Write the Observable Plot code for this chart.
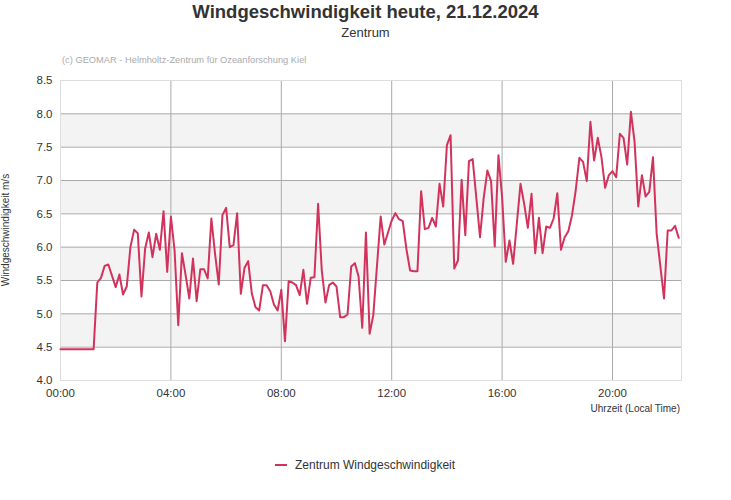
<!DOCTYPE html>
<html><head><meta charset="utf-8">
<script src="https://cdn.jsdelivr.net/npm/d3@7"></script>
<script src="https://cdn.jsdelivr.net/npm/@observablehq/plot@0.6"></script>
<style>
body{margin:0;background:#fff;font-family:"Liberation Sans",Arial,sans-serif;}
#wrap{position:relative;width:731px;height:500px;overflow:hidden;}
#title{position:absolute;left:0;width:731px;top:1px;text-align:center;font-size:18.5px;line-height:22px;font-weight:bold;color:#333;}
#sub{position:absolute;left:0;width:731px;top:25px;text-align:center;font-size:13px;line-height:16px;color:#333;}
#copy{position:absolute;left:62px;top:54px;font-size:9.3px;line-height:12px;color:#aaa;}
#chart{position:absolute;left:0;top:45px;}
#ylab{position:absolute;left:6px;top:230px;font-size:10px;line-height:12px;color:#333;white-space:nowrap;transform:translate(-50%,-50%) rotate(-90deg);transform-origin:center;}
#xlab{position:absolute;right:51px;top:403px;font-size:10px;line-height:12px;color:#333;}
#legend{position:absolute;left:275px;top:457px;font-size:12px;line-height:16px;color:#333;white-space:nowrap;}
#legend span.sw{display:inline-block;width:12px;height:2px;background:#d2335c;vertical-align:middle;margin-right:8px;position:relative;top:-1px;}
</style></head><body>
<div id="wrap">
<div id="title">Windgeschwindigkeit heute, 21.12.2024</div>
<div id="sub">Zentrum</div>
<div id="copy">(c) GEOMAR - Helmholtz-Zentrum für Ozeanforschung Kiel</div>
<div id="chart"></div>
<div id="ylab">Windgeschwindigkeit m/s</div>
<div id="xlab">Uhrzeit (Local Time)</div>
<div id="legend"><span class="sw"></span>Zentrum Windgeschwindigkeit</div>
</div>
<script>
const times = ["00:00","01:12","01:20","01:28","01:36","01:44","02:00","02:08","02:16","02:24","02:32","02:40","02:48","02:56","03:04","03:12","03:20","03:28","03:36","03:44","03:52",
"04:00","04:08","04:16","04:24","04:32","04:40","04:48","04:56","05:04","05:12","05:20","05:28","05:36","05:44","05:52","06:00","06:08","06:16","06:24","06:32","06:40","06:48","06:56","07:04","07:12","07:20","07:28","07:36","07:44","07:52",
"08:00","08:08","08:16","08:24","08:32","08:40","08:48","08:56","09:04","09:12","09:20","09:28","09:36","09:44","09:52","10:00","10:08","10:16","10:24","10:32","10:40","10:48","10:56","11:04","11:12","11:20","11:36","11:44","11:52",
"12:00","12:08","12:16","12:24","12:32","12:40","12:48","12:56","13:04","13:12","13:20","13:28","13:36","13:44","13:52","14:00","14:08","14:16","14:24","14:32","14:40","14:48","14:56","15:12","15:20","15:28","15:36","15:44","15:52",
"16:00","16:08","16:16","16:24","16:40","16:48","16:56","17:04","17:12","17:20","17:28","17:36","17:44","17:52","18:00","18:08","18:16","18:24","18:32","18:40","18:48","18:56","19:04","19:12","19:20","19:28","19:36","19:44","19:52",
"20:00","20:08","20:16","20:24","20:32","20:40","20:48","20:56","21:04","21:12","21:20","21:28","21:36","21:52","22:00","22:08","22:16","22:24"];
const values = [4.47,4.47,5.47,5.54,5.72,5.74,5.40,5.59,5.29,5.41,6.00,6.26,6.21,5.26,5.98,6.22,5.85,6.20,5.96,6.54,5.63,
6.46,5.95,4.83,5.91,5.58,5.23,5.83,5.19,5.67,5.67,5.53,6.43,5.90,5.44,6.48,6.59,6.00,6.03,6.51,5.30,5.69,5.79,5.30,5.10,5.05,5.43,5.43,5.34,5.14,5.05,
5.36,4.59,5.49,5.47,5.43,5.28,5.66,5.15,5.54,5.55,6.65,5.65,5.17,5.43,5.47,5.41,4.95,4.95,4.99,5.71,5.76,5.56,4.79,6.22,4.70,4.98,6.46,6.04,6.22,
6.40,6.51,6.42,6.39,5.97,5.65,5.64,5.64,6.84,6.27,6.29,6.44,6.31,6.95,6.61,7.53,7.68,5.68,5.80,7.01,6.18,7.29,7.32,6.15,6.74,7.15,6.99,6.01,7.38,
6.75,5.78,6.10,5.75,6.95,6.65,6.29,6.80,5.91,6.44,5.91,6.31,6.29,6.43,6.81,5.96,6.15,6.24,6.48,6.85,7.34,7.28,6.99,7.88,7.30,7.64,7.35,6.89,7.08,
7.14,7.05,7.70,7.64,7.24,8.03,7.58,6.61,7.08,6.76,6.83,7.35,6.20,5.23,6.25,6.25,6.32,6.14];
const xTickLabels = ["00:00","04:00","08:00","12:00","16:00","20:00"];
const xEnd = "22:30";
const yTicks = [4.0,4.5,5.0,5.5,6.0,6.5,7.0,7.5,8.0,8.5];
const gridY = [4.5,5.0,5.5,6.0,6.5,7.0,7.5,8.0];
const bandStarts = [4.5,5.5,6.5,7.5];

const parse = d3.utcParse("%H:%M");
const data = times.map((t,i)=>({time: parse(t), value: values[i]}));
const bands = bandStarts.map(b=>({y1:b, y2:b+0.5}));
const xTicks = xTickLabels.map(parse);

const chart = Plot.plot({
  width:731, height:380,
  marginLeft:60, marginRight:50, marginTop:35, marginBottom:45,
  style:{fontFamily:"'Liberation Sans', Arial, sans-serif", fontSize:"11px", color:"#333", background:"transparent"},
  x:{type:"utc", domain:[parse("00:00"), parse(xEnd)]},
  y:{domain:[4,8.5]},
  marks:[
    Plot.rect(bands, {y1:"y1", y2:"y2", fill:"#f3f3f3"}),
    Plot.ruleY(gridY, {stroke:"#aaa", strokeWidth:1}),
    Plot.ruleX(xTicks.slice(1), {stroke:"#aaa", strokeWidth:1}),
    Plot.frame({stroke:"#ddd"}),
    Plot.axisY(yTicks, {tickSize:0, tickPadding:8, tickFormat:d3.format(".1f"), label:null, fontSize:11.5}),
    Plot.axisX(xTicks, {tickSize:0, tickPadding:8, tickFormat:d3.utcFormat("%H:%M"), label:null, fontSize:11.5}),
    Plot.line(data, {x:"time", y:"value", stroke:"#d2335c", strokeWidth:2})
  ]
});
document.getElementById("chart").appendChild(chart);
</script>
</body></html>
